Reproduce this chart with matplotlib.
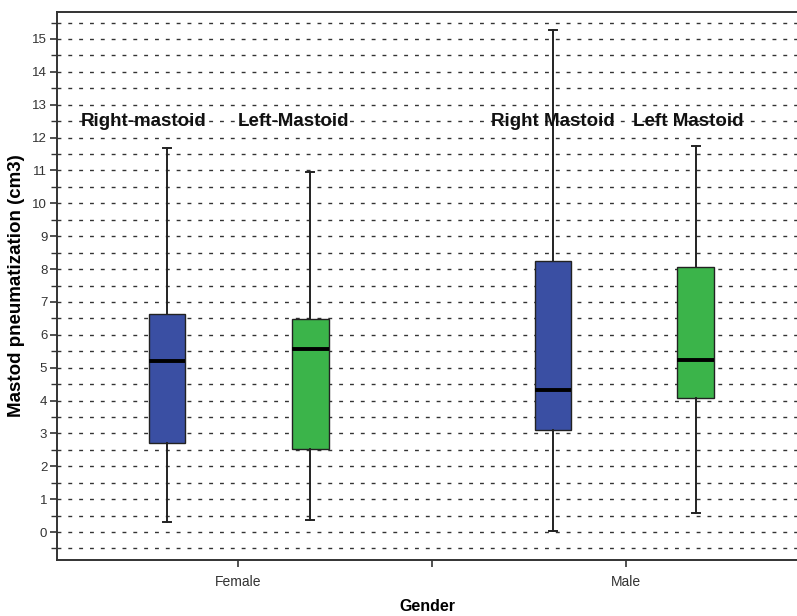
import matplotlib
matplotlib.use("Agg")
import matplotlib.pyplot as plt
from matplotlib.ticker import MultipleLocator, FixedLocator

plt.rcParams['font.family'] = ['Liberation Sans', 'DejaVu Sans']

# box statistics (cm3)
groups = ["Female", "Male"]
sides = ["Right-mastoid", "Left-Mastoid", "Right Mastoid", "Left Mastoid"]
positions = [0.317, 0.686, 1.312, 1.680]
label_x = [0.258, 0.642, 1.312, 1.660]
whislo = [0.31, 0.37, 0.04, 0.59]
q1 = [2.72, 2.52, 3.09, 4.09]
med = [5.20, 5.58, 4.31, 5.24]
q3 = [6.63, 6.47, 8.24, 8.07]
whishi = [11.68, 10.96, 15.27, 11.74]
colors = ['#3a4fa3', '#3bb44a', '#3a4fa3', '#3bb44a']

stats = []
for i in range(len(sides)):
    stats.append({'whislo': whislo[i], 'q1': q1[i], 'med': med[i],
                  'q3': q3[i], 'whishi': whishi[i], 'fliers': []})

fig = plt.figure(figsize=(7.97, 6.16), dpi=100, facecolor='white')
ax = fig.add_axes([57 / 797, 56 / 616, 1 - 57 / 797, (560 - 12) / 616])

bp = ax.bxp(stats, positions=positions, widths=0.095, patch_artist=True,
            showfliers=False, capwidths=0.02,
            boxprops=dict(edgecolor='#222222', linewidth=1.0),
            medianprops=dict(color='black', linewidth=2.8),
            whiskerprops=dict(color='#222222', linewidth=1.4),
            capprops=dict(color='#222222', linewidth=1.4))
for patch, c in zip(bp['boxes'], colors):
    patch.set_facecolor(c)
    patch.set_zorder(3)
for key in ['whiskers', 'caps', 'medians']:
    for ln in bp[key]:
        ln.set_zorder(4)

for x, s in zip(label_x, sides):
    ax.text(x, 12.5, s, ha='center', va='center', fontsize=13.5,
            fontweight='bold', color='#111111', zorder=5)

ax.set_xlim(0.0335, 1.941)
ax.set_ylim(-0.85, 15.82)

ax.yaxis.set_major_locator(MultipleLocator(1))
ax.yaxis.set_minor_locator(MultipleLocator(0.5))
ax.set_xticks([0.5, 1.5])
ax.set_xticklabels(groups)
ax.xaxis.set_minor_locator(FixedLocator([1.0]))

ax.grid(True, axis='y', which='both', linestyle=(0, (2.8, 5.0)),
        color='#333333', linewidth=1.0)
ax.set_axisbelow(True)

ax.tick_params(axis='y', which='major', length=5, width=1.2, colors='#333333',
               labelsize=9.5, pad=2)
ax.tick_params(axis='y', which='minor', length=4, width=1.0, colors='#333333')
ax.tick_params(axis='x', which='both', length=5, width=1.2, colors='#333333',
               labelsize=10, pad=6)

for side in ['top', 'left', 'bottom']:
    ax.spines[side].set_color('#333333')
    ax.spines[side].set_linewidth(1.4)
ax.spines['right'].set_visible(False)

ax.set_ylabel("Mastod pneumatization (cm3)", fontsize=13.5, fontweight='bold',
              labelpad=5)
ax.set_xlabel("Gender", fontsize=11.5, fontweight='bold', labelpad=7)

fig.savefig("out.png", dpi=100, facecolor='white')
